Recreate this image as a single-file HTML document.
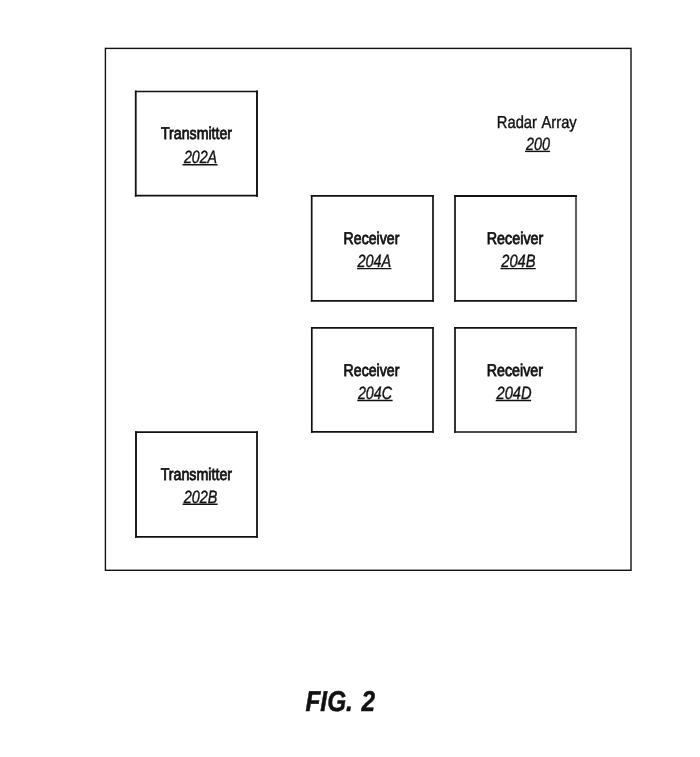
<!DOCTYPE html>
<html><head><meta charset="utf-8"><title>FIG. 2</title>
<style>
html,body{margin:0;padding:0;background:#fff;}
svg{display:block;will-change:transform;opacity:0.999}
text{font-family:"Liberation Sans",Arial,sans-serif;fill:#111;stroke:#111;stroke-width:0.8px;text-rendering:geometricPrecision;}
.lbl{font-size:17.0px;}
.rad{font-size:17.3px;stroke-width:0.4px;word-spacing:1.5px}
.num{font-size:17.8px;font-style:italic;stroke-width:0.38px}
.fig{font-size:28.8px;font-weight:bold;font-style:italic;stroke-width:0.5px}
</style></head>
<body>
<svg width="700" height="757" viewBox="0 0 700 757">
<rect width="700" height="757" fill="#fff"/>
<rect x="105.4" y="48.4" width="525.6" height="521.9" fill="none" stroke="#111" stroke-width="1.4"/>
<g stroke="#111" stroke-linecap="square"><line x1="135.75" y1="91.4" x2="135.75" y2="195.7" stroke-width="1.8"/><line x1="135.75" y1="91.4" x2="257.0" y2="91.4" stroke-width="1.5"/><line x1="257.0" y1="91.4" x2="257.0" y2="195.7" stroke-width="1.9"/><line x1="135.75" y1="195.7" x2="257.0" y2="195.7" stroke-width="1.8"/></g>
<g stroke="#111" stroke-linecap="square"><line x1="311.7" y1="195.9" x2="311.7" y2="300.8" stroke-width="1.7"/><line x1="311.7" y1="195.9" x2="433.0" y2="195.9" stroke-width="1.8"/><line x1="433.0" y1="195.9" x2="433.0" y2="300.8" stroke-width="1.7"/><line x1="311.7" y1="300.8" x2="433.0" y2="300.8" stroke-width="1.8"/></g>
<g stroke="#111" stroke-linecap="square"><line x1="455.0" y1="196.0" x2="455.0" y2="300.8" stroke-width="1.7"/><line x1="455.0" y1="196.0" x2="576.0" y2="196.0" stroke-width="1.8"/><line x1="576.0" y1="196.0" x2="576.0" y2="300.8" stroke-width="1.35"/><line x1="455.0" y1="300.8" x2="576.0" y2="300.8" stroke-width="1.8"/></g>
<g stroke="#111" stroke-linecap="square"><line x1="311.8" y1="327.85" x2="311.8" y2="431.9" stroke-width="1.7"/><line x1="311.8" y1="327.85" x2="433.0" y2="327.85" stroke-width="1.7"/><line x1="433.0" y1="327.85" x2="433.0" y2="431.9" stroke-width="1.7"/><line x1="311.8" y1="431.9" x2="433.0" y2="431.9" stroke-width="1.7"/></g>
<g stroke="#111" stroke-linecap="square"><line x1="455.0" y1="327.85" x2="455.0" y2="432.0" stroke-width="1.7"/><line x1="455.0" y1="327.85" x2="576.0" y2="327.85" stroke-width="1.7"/><line x1="576.0" y1="327.85" x2="576.0" y2="432.0" stroke-width="1.35"/><line x1="455.0" y1="432.0" x2="576.0" y2="432.0" stroke-width="1.5"/></g>
<g stroke="#111" stroke-linecap="square"><line x1="136.0" y1="432.2" x2="136.0" y2="536.8" stroke-width="1.9"/><line x1="136.0" y1="432.2" x2="257.0" y2="432.2" stroke-width="1.8"/><line x1="257.0" y1="432.2" x2="257.0" y2="536.8" stroke-width="1.8"/><line x1="136.0" y1="536.8" x2="257.0" y2="536.8" stroke-width="1.8"/></g>
<text id="TA" class="lbl" x="161.00" y="139.0" textLength="71.06" lengthAdjust="spacingAndGlyphs">Transmitter</text>
<text id="nA2" class="num" x="183.90" y="162.65" textLength="33.21" lengthAdjust="spacingAndGlyphs">202A</text>
<text id="RA" class="lbl" x="343.55" y="243.8" textLength="55.82" lengthAdjust="spacingAndGlyphs">Receiver</text>
<text id="n4A" class="num" x="357.50" y="266.6" textLength="33.76" lengthAdjust="spacingAndGlyphs">204A</text>
<text id="RB" class="lbl" x="486.75" y="243.8" textLength="56.64" lengthAdjust="spacingAndGlyphs">Receiver</text>
<text id="n4B" class="num" x="501.30" y="266.6" textLength="34.24" lengthAdjust="spacingAndGlyphs">204B</text>
<text id="RC" class="lbl" x="343.55" y="375.5" textLength="55.82" lengthAdjust="spacingAndGlyphs">Receiver</text>
<text id="n4C" class="num" x="357.90" y="399.3" textLength="34.12" lengthAdjust="spacingAndGlyphs">204C</text>
<text id="RD" class="lbl" x="486.75" y="375.5" textLength="56.27" lengthAdjust="spacingAndGlyphs">Receiver</text>
<text id="n4D" class="num" x="496.55" y="399.2" textLength="35.07" lengthAdjust="spacingAndGlyphs">204D</text>
<text id="TB" class="lbl" x="160.65" y="479.6" textLength="71.42" lengthAdjust="spacingAndGlyphs">Transmitter</text>
<text id="nB2" class="num" x="183.70" y="502.6" textLength="33.62" lengthAdjust="spacingAndGlyphs">202B</text>
<text id="RAD" class="rad" x="496.80" y="127.8" textLength="79.92" lengthAdjust="spacingAndGlyphs">Radar Array</text>
<text id="n200" class="num" x="526.05" y="150.0" textLength="23.98" lengthAdjust="spacingAndGlyphs">200</text>
<line x1="182.5" y1="164.7" x2="217.6" y2="164.7" stroke="#111" stroke-width="1.4"/>
<line x1="357.1" y1="268.6" x2="391.4" y2="268.6" stroke="#111" stroke-width="1.4"/>
<line x1="500.4" y1="268.6" x2="535.7" y2="268.6" stroke="#111" stroke-width="1.4"/>
<line x1="357.3" y1="400.5" x2="392.6" y2="400.5" stroke="#111" stroke-width="1.4"/>
<line x1="495.7" y1="400.5" x2="531.1" y2="400.5" stroke="#111" stroke-width="1.4"/>
<line x1="182.6" y1="504.2" x2="217.6" y2="504.2" stroke="#111" stroke-width="1.4"/>
<line x1="525" y1="151.4" x2="550.1" y2="151.4" stroke="#111" stroke-width="1.4"/>
<text class="fig" transform="translate(305.45,711.4) scale(0.8471,1)">FIG. <tspan dx="2.21">2</tspan></text>
</svg>
</body></html>
